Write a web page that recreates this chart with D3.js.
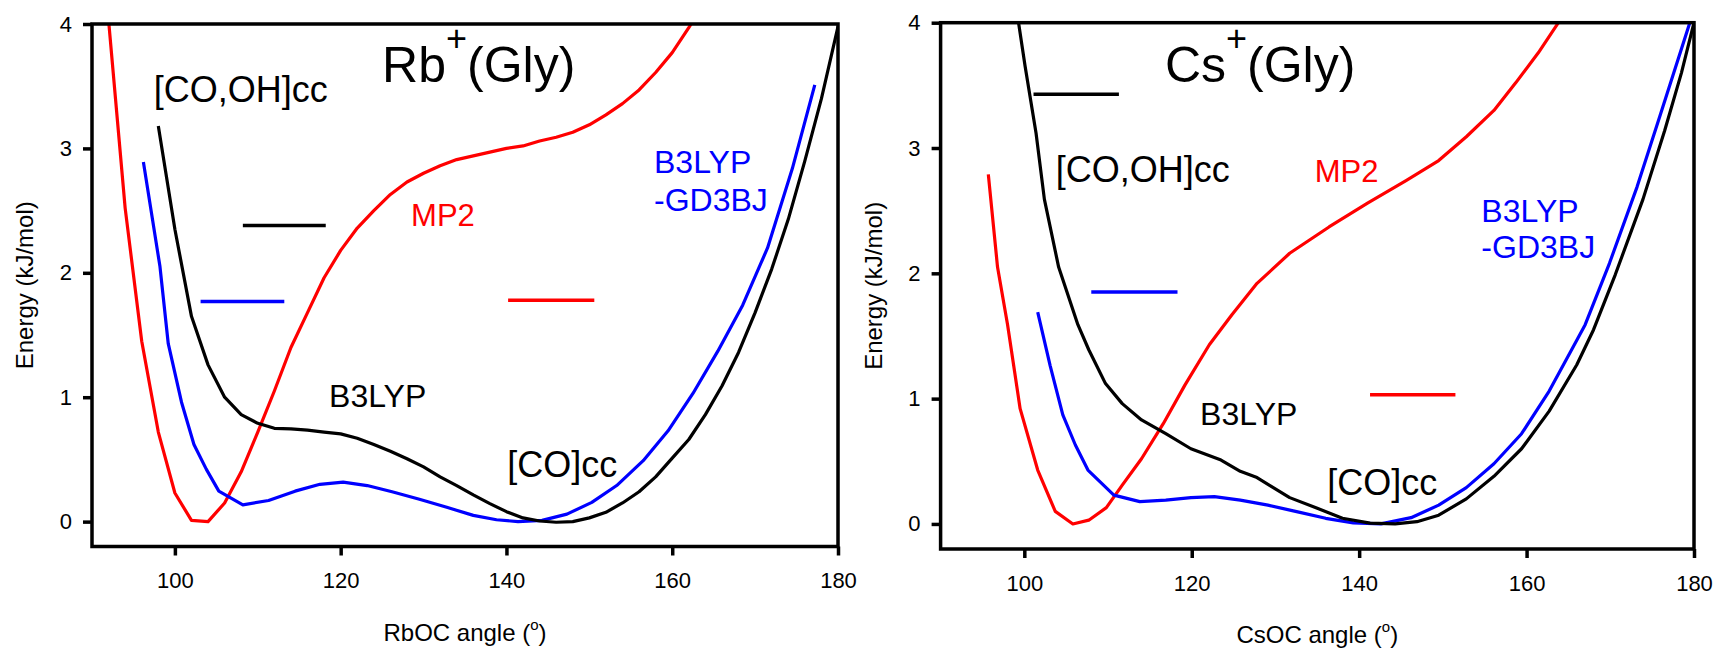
<!DOCTYPE html>
<meta charset="utf-8">
<head>
<style>
    body {
      margin: 0;
      background: #fff;
    }
    svg {
      font-family: Arial, 'Liberation Sans', sans-serif;
    }
    .frame {
      fill: none;
      stroke: #000;
      stroke-width: 3.5px;
    }
    .axis path {
      display: none;
    }
    .axis line {
      stroke: #000;
      stroke-width: 3.5px;
    }
    .axis text {
      font-size: 22px;
      fill: #000;
    }
    .curve {
      fill: none;
      stroke-width: 3.2px;
      stroke-linejoin: round;
    }
    .level {
      stroke-width: 3.5px;
    }
</style>
</head>
<body>
<svg width="1720" height="650"></svg>
<script src="https://d3js.org/d3.v7.min.js"></script>
<script>

// ---- data (angle in degrees, energy in kJ/mol) ----

var xTicks = [100, 120, 140, 160, 180];
var yTicks = [0, 1, 2, 3, 4];

// Rb+(Gly)
var rbMP2 = [[92,4.03],[94,2.52],[96,1.45],[98,0.72],[100,0.23],[102,0.01],[104,0.0],[106,0.15],
  [108,0.40],[110,0.72],[112,1.05],[114,1.40],[116,1.68],[118,1.96],[120,2.18],[122,2.36],[124,2.50],
  [126,2.63],[128,2.73],[130,2.80],[132,2.86],[134,2.91],[136,2.94],[138,2.97],[140,3.00],[142,3.02],
  [144,3.06],[146,3.09],[148,3.13],[150,3.19],[152,3.27],[154,3.36],[156,3.47],[158,3.61],[160,3.77],
  [162,3.97],[163,4.08]];
var rbB3LYP = [[98,3.18],[100,2.35],[102,1.65],[104,1.26],[106,1.0],[108,0.86],[110,0.79],[112,0.75],
  [114,0.745],[116,0.735],[118,0.72],[120,0.705],[122,0.67],[124,0.62],[126,0.565],[128,0.505],
  [130,0.44],[132,0.36],[134,0.29],[136,0.215],[138,0.145],[140,0.08],[142,0.03],[144,0.005],
  [146,-0.005],[148,0.0],[150,0.03],[152,0.075],[154,0.15],[156,0.24],[158,0.36],[160,0.51],[162,0.66],
  [164,0.86],[166,1.09],[168,1.36],[170,1.68],[172,2.03],[174,2.43],[176,2.9],[178,3.4],[180,3.98]];
var rbGD3BJ = [[96.2,2.89],[98.2,2.05],[99.2,1.43],[100.8,0.96],[102.3,0.62],[103.8,0.42],[105.3,0.245],
  [108.2,0.135],[111.3,0.17],[114.5,0.245],[117.5,0.30],[120.3,0.318],[123.2,0.29],[126.2,0.24],
  [129.5,0.18],[132.8,0.115],[136,0.05],[138.8,0.015],[141.4,0.0],[144.3,0.01],[147.3,0.06],
  [150.3,0.155],[153.3,0.29],[156.5,0.49],[159.5,0.73],[162.5,1.03],[165.5,1.37],[168.5,1.74],
  [171.5,2.2],[174.5,2.84],[177.2,3.51]];
// short horizontal marks: [x1, x2, energy]
var rbLevels = {black: [108.2, 118.2, 2.38], blue: [103.1, 113.2, 1.77], red: [140.2, 150.6, 1.78]};

// Cs+(Gly)
var csMP2 = [[95.7,2.79],[96.8,2.05],[98.0,1.59],[99.5,0.92],[101.6,0.43],[103.7,0.1],[105.8,0.0],
  [107.7,0.03],[109.8,0.13],[111.7,0.31],[114,0.52],[116.6,0.8],[119.2,1.11],[122.1,1.43],[124.8,1.67],
  [127.8,1.92],[131.7,2.16],[136.4,2.37],[141,2.56],[145.6,2.74],[149.5,2.9],[152.8,3.09],[156.1,3.3],
  [158.7,3.52],[161.4,3.76],[163.8,4.0],[164.2,4.05]];
var csB3LYP = [[99.2,4.05],[100.1,3.65],[101.4,3.12],[102.4,2.59],[104.1,2.05],[106.4,1.59],[107.7,1.39],
  [109.7,1.12],[111.7,0.96],[114,0.83],[116.9,0.72],[119.9,0.6],[123.5,0.51],[125.8,0.42],[127.8,0.37],
  [131.7,0.21],[135,0.125],[138,0.045],[141.3,0.006],[144.3,0.0],[146.9,0.018],[149.5,0.07],[152.8,0.2],
  [156.1,0.38],[159.4,0.6],[162.7,0.9],[166,1.27],[168,1.55],[170.6,1.99],[173.9,2.59],[176.5,3.14],
  [178.5,3.6],[180,4.0]];
var csGD3BJ = [[101.6,1.69],[103.1,1.26],[104.6,0.87],[106.1,0.63],[107.6,0.43],[110.7,0.23],[113.8,0.178],
  [116.9,0.19],[119.9,0.21],[122.7,0.218],[125.8,0.19],[129.1,0.15],[132.4,0.1],[136,0.045],[139.3,0.008],
  [142.6,0.0],[146.2,0.05],[149.5,0.15],[152.8,0.29],[156.1,0.48],[159.4,0.72],[162.7,1.06],[165.3,1.38],
  [167,1.59],[169.9,2.08],[173.2,2.69],[175.9,3.25],[179.5,4.0]];
var csLevels = {black: [101.1, 111.3, 3.43], blue: [108, 118.3, 1.85], red: [141.3, 151.5, 1.03]};

// ---- layout ----

const svg = d3.select('svg');

var panels = [
  {ion: 'Rb', xLabel: 'RbOC angle (', left: 92, right: 838, top: 24, bottom: 546.5,
   mp2: rbMP2, b3lyp: rbB3LYP, gd3bj: rbGD3BJ, levels: rbLevels,
   // label anchors in data units
   title: [125.0, 3.53], cooh: [97.45, 3.37], mp2Lab: [128.5, 2.38],
   gdLab: [157.8, 2.80, 2.50], b3Lab: [118.6, 0.92], coLab: [140.1, 0.357]},
  {ion: 'Cs', xLabel: 'CsOC angle (', left: 940.6, right: 1694, top: 22.7, bottom: 549,
   mp2: csMP2, b3lyp: csB3LYP, gd3bj: csGD3BJ, levels: csLevels,
   title: [116.8, 3.53], cooh: [103.75, 2.73], mp2Lab: [134.7, 2.73],
   gdLab: [154.6, 2.41, 2.12], b3Lab: [121.0, 0.79], coLab: [136.2, 0.231]}
];

panels.forEach(function(p, i) {
  var x = d3.scaleLinear().domain([90, 180]).range([p.left, p.right]);
  var y = d3.scaleLinear().domain([-0.2, 4]).range([p.bottom, p.top]);

  var g = svg.append('g');

  g.append('clipPath').attr('id', 'clip' + i)
    .append('rect')
    .attr('x', p.left).attr('y', p.top)
    .attr('width', p.right - p.left).attr('height', p.bottom - p.top);

  var line = d3.line()
    .x(d => x(d[0]))
    .y(d => y(d[1]));

  var curves = [
    {data: p.mp2, color: '#ff0000'},
    {data: p.gd3bj, color: '#0000ff'},
    {data: p.b3lyp, color: '#000000'}
  ];

  g.append('g').attr('clip-path', 'url(#clip' + i + ')')
    .selectAll('path')
    .data(curves)
    .enter().append('path')
      .attr('class', 'curve')
      .attr('stroke', d => d.color)
      .attr('d', d => line(d.data));

  // short marks
  var lv = [
    {v: p.levels.black, color: '#000'},
    {v: p.levels.blue, color: '#0000ff'},
    {v: p.levels.red, color: '#ff0000'}
  ];
  g.selectAll('.level')
    .data(lv)
    .enter().append('line')
      .attr('class', 'level')
      .attr('stroke', d => d.color)
      .attr('x1', d => x(d.v[0]))
      .attr('x2', d => x(d.v[1]))
      .attr('y1', d => y(d.v[2]))
      .attr('y2', d => y(d.v[2]));

  // axes
  g.append('g')
    .attr('class', 'axis')
    .attr('transform', 'translate(0,' + p.bottom + ')')
    .call(d3.axisBottom(x).tickValues(xTicks).tickFormat(d3.format('d'))
      .tickSize(9).tickPadding(17).tickSizeOuter(0));

  g.append('g')
    .attr('class', 'axis')
    .attr('transform', 'translate(' + p.left + ',0)')
    .call(d3.axisLeft(y).tickValues(yTicks).tickFormat(d3.format('d'))
      .tickSize(9).tickPadding(11).tickSizeOuter(0));

  g.append('rect')
    .attr('class', 'frame')
    .attr('x', p.left).attr('y', p.top)
    .attr('width', p.right - p.left).attr('height', p.bottom - p.top);

  // axis titles
  var xt = g.append('text')
    .attr('x', (p.left + p.right) / 2)
    .attr('y', p.bottom + 94)
    .attr('text-anchor', 'middle')
    .style('font-size', '24px')
    .text(p.xLabel);
  xt.append('tspan').attr('dy', -11).style('font-size', '15px').text('o');
  xt.append('tspan').attr('dy', 11).text(')');

  g.append('text')
    .attr('transform', 'translate(' + (p.left - 59) + ',' + ((p.top + p.bottom) / 2) + ') rotate(-90)')
    .attr('text-anchor', 'middle')
    .style('font-size', '24px')
    .text('Energy (kJ/mol)');

  // title
  var t = g.append('text')
    .attr('x', x(p.title[0]))
    .attr('y', y(p.title[1]))
    .style('font-size', '50px')
    .text(p.ion);
  t.append('tspan').attr('dy', -31).style('font-size', '36px').text('+');
  t.append('tspan').attr('dy', 31).text('(Gly)');

  // annotations
  function note(pos, txt, color, size) {
    g.append('text')
      .attr('x', x(pos[0]))
      .attr('y', y(pos[1]))
      .attr('fill', color)
      .style('font-size', size + 'px')
      .text(txt);
  }
  note(p.cooh, '[CO,OH]cc', '#000', 36);
  note(p.mp2Lab, 'MP2', '#ff0000', 31);
  note([p.gdLab[0], p.gdLab[1]], 'B3LYP', '#0000ff', 32);
  note([p.gdLab[0], p.gdLab[2]], '-GD3BJ', '#0000ff', 32);
  note(p.b3Lab, 'B3LYP', '#000', 32);
  note(p.coLab, '[CO]cc', '#000', 36);
});

</script>
</body>
